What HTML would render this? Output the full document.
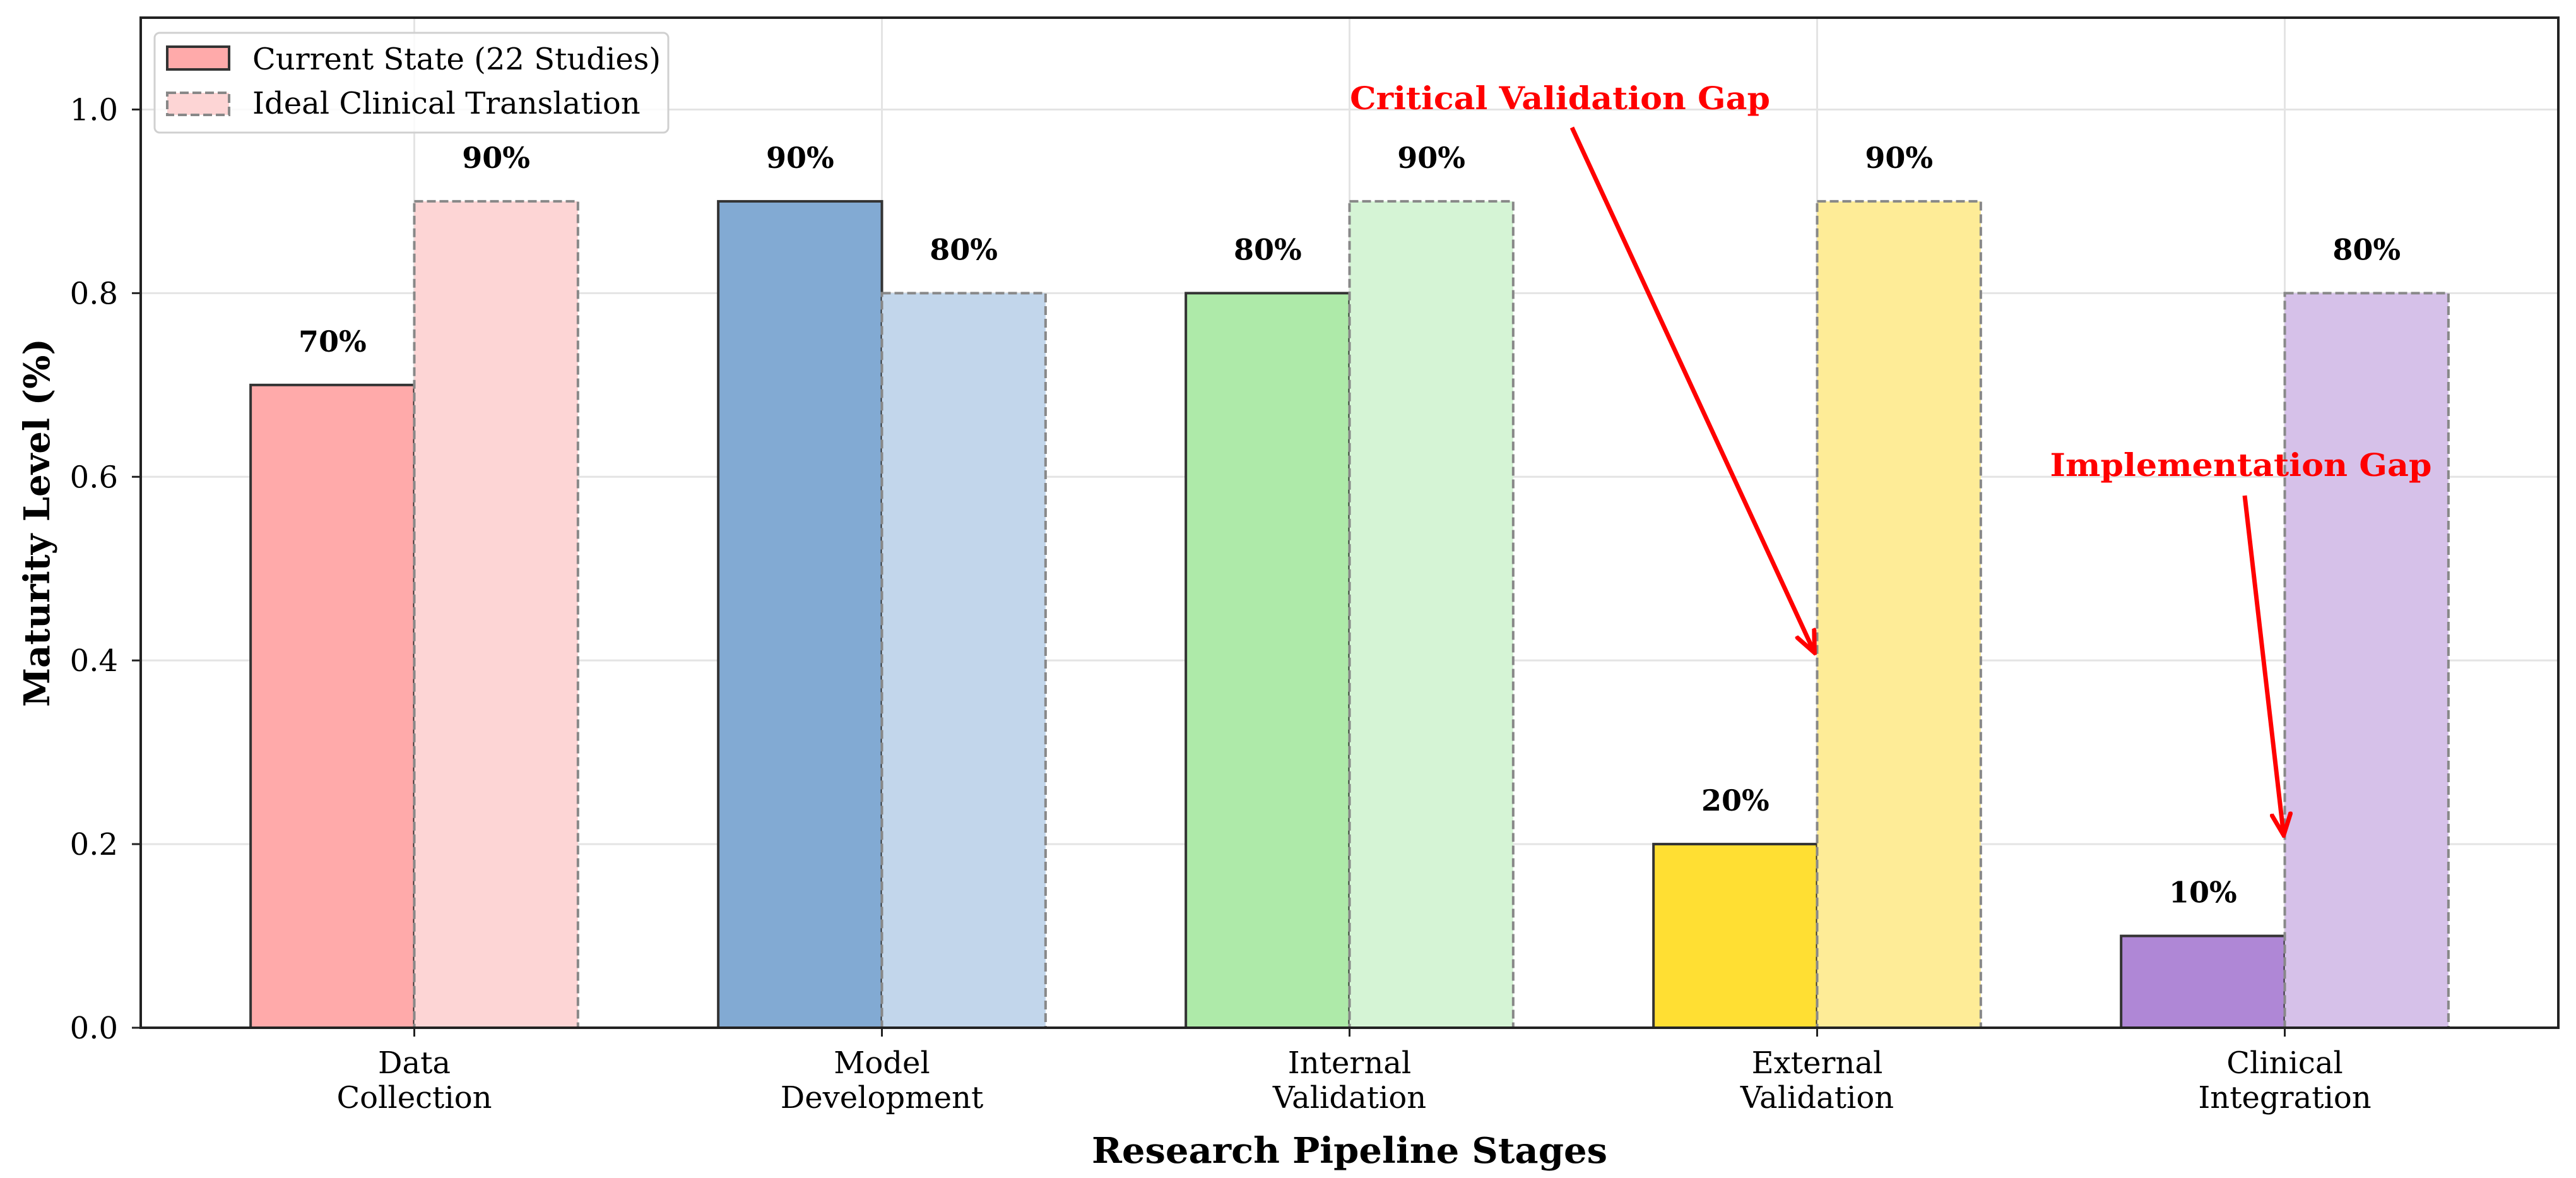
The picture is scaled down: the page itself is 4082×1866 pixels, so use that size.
<!DOCTYPE html>
<html><head><meta charset="utf-8"><style>
html,body{margin:0;padding:0;background:#fff;}
svg{display:block;font-family:"DejaVu Serif","Liberation Serif",serif;}
</style></head><body>
<svg id="chart" width="4082" height="1866" viewBox="0 0 4082 1866" xmlns="http://www.w3.org/2000/svg">
<defs>
<marker id="ah" markerUnits="userSpaceOnUse" markerWidth="40" markerHeight="36" refX="34" refY="18" orient="auto">
<path d="M0,2 L36,18 L0,34" fill="none" stroke="#ff0000" stroke-width="7"/>
</marker>
</defs>
<g id="grid"></g>
<g id="bars"></g>
<g id="labels"></g>
<g id="axes"></g>
<g id="annot"></g>
<g>
<rect x="245" y="52" width="814" height="158" rx="8" fill="#fff" fill-opacity="0.8" stroke="#d0d0d0" stroke-width="3"/>
<rect x="265" y="74" width="98" height="36" fill="#ffaaaa" stroke="#333" stroke-width="4"/>
<text x="400" y="110" font-size="48">Current State (22 Studies)</text>
<rect x="265" y="147" width="98" height="35" fill="#fdd5d5" stroke="#888" stroke-width="4" stroke-dasharray="14,6"/>
<text x="400" y="180" font-size="48">Ideal Clinical Translation</text>
</g>
</svg>
<script>
const categories = [["Data","Collection"],["Model","Development"],["Internal","Validation"],["External","Validation"],["Clinical","Integration"]];
const currentValues = [0.7, 0.9, 0.8, 0.2, 0.1];
const idealValues = [0.9, 0.8, 0.9, 0.9, 0.8];
const currentColors = ["#ffaaaa","#82aad3","#aeeaa9","#ffdf33","#af87d6"];
const idealColors = ["#fdd5d5","#c2d6eb","#d5f4d5","#feec97","#d6c1e9"];
const yTicks = [0.0, 0.2, 0.4, 0.6, 0.8, 1.0];
const yTickLabels = ["0.0","0.2","0.4","0.6","0.8","1.0"];

const NS = "http://www.w3.org/2000/svg";
const L = 223, R = 4054, T = 28, B = 1628;
const X0 = -0.585, X1 = 4.585, Y0 = 0, Y1 = 1.1;
const xs = v => L + (v - X0) / (X1 - X0) * (R - L);
const ys = v => B - (v - Y0) / (Y1 - Y0) * (B - T);
const W = 0.35;
function mk(tag, attrs, parent, text) {
  const e = document.createElementNS(NS, tag);
  for (const k in attrs) e.setAttribute(k, attrs[k]);
  if (text !== undefined) e.textContent = text;
  parent.appendChild(e);
  return e;
}
const grid = document.getElementById('grid');
const bars = document.getElementById('bars');
const labels = document.getElementById('labels');
const axes = document.getElementById('axes');
const annot = document.getElementById('annot');

yTicks.forEach((t, i) => {
  const g = mk('line', {x1: L, x2: R, y1: ys(t), y2: ys(t), stroke: '#e4e4e4', 'stroke-width': 3}, grid);
  
  
  const tk = mk('line', {x1: L - 14, x2: L, y1: ys(t), y2: ys(t), stroke: '#222', 'stroke-width': 3}, axes);
  
  
  const tl = mk('text', {x: L - 36, y: ys(t) + 17, 'font-size': 48, 'text-anchor': 'end'}, axes, yTickLabels[i]);
  
  
});
categories.forEach((c, i) => {
  const g = mk('line', {x1: xs(i), x2: xs(i), y1: T, y2: B, stroke: '#e4e4e4', 'stroke-width': 3}, grid);
  
  
});
categories.forEach((c, i) => {
  const x0 = xs(i - W), xm = xs(i), x1 = xs(i + W);
  const b1 = mk('rect', {x: x0, y: ys(currentValues[i]), width: xm - x0, height: ys(0) - ys(currentValues[i]), fill: currentColors[i], stroke: '#333', 'stroke-width': 4}, bars);
  
  
  const b2 = mk('rect', {x: xm, y: ys(idealValues[i]), width: x1 - xm, height: ys(0) - ys(idealValues[i]), fill: idealColors[i], stroke: '#888', 'stroke-width': 4, 'stroke-dasharray': '14,6'}, bars);
  
  
  const l1 = mk('text', {x: (x0 + xm) / 2, y: ys(currentValues[i]) - 53, 'font-size': 46, 'font-weight': 'bold', 'text-anchor': 'middle'}, labels, Math.round(currentValues[i] * 100) + '%');
  
  
  const l2 = mk('text', {x: (xm + x1) / 2, y: ys(idealValues[i]) - 53, 'font-size': 46, 'font-weight': 'bold', 'text-anchor': 'middle'}, labels, Math.round(idealValues[i] * 100) + '%');
  
  
  const tk = mk('line', {x1: xm, x2: xm, y1: B, y2: B + 14, stroke: '#222', 'stroke-width': 3}, axes);
  
  
  c.forEach((line, j) => {
    const t = mk('text', {x: xm, y: 1700 + j * 55, 'font-size': 48, 'text-anchor': 'middle'}, axes, line);
    
    
  });
});
const frame = mk('rect', {x: L, y: T, width: R - L, height: B - T, fill: 'none', stroke: '#222', 'stroke-width': 4}, axes);


const xt = mk('text', {x: (L + R) / 2, y: 1842, 'font-size': 56, 'font-weight': 'bold', 'text-anchor': 'middle', textLength: 817, lengthAdjust: 'spacingAndGlyphs'}, axes, 'Research Pipeline Stages');


const yt = mk('text', {x: 0, y: 0, 'font-size': 56, 'font-weight': 'bold', 'text-anchor': 'middle', transform: 'translate(78,' + ((T + B) / 2) + ') rotate(-90)'}, axes, 'Maturity Level (%)');



const a1 = mk('text', {x: 2472, y: 173, 'font-size': 50, 'font-weight': 'bold', fill: '#ff0000', 'text-anchor': 'middle', textLength: 666, lengthAdjust: 'spacingAndGlyphs'}, annot, 'Critical Validation Gap');


const ar1 = mk('line', {x1: 2491, y1: 202, x2: xs(3) - 5, y2: ys(0.4) - 14, stroke: '#ff0000', 'stroke-width': 7, 'marker-end': 'url(#ah)'}, annot);


const a2 = mk('text', {x: 3551, y: 754, 'font-size': 50, 'font-weight': 'bold', fill: '#ff0000', 'text-anchor': 'middle', textLength: 605, lengthAdjust: 'spacingAndGlyphs'}, annot, 'Implementation Gap');


const ar2 = mk('line', {x1: 3557, y1: 785, x2: xs(4) - 2, y2: ys(0.2) - 16, stroke: '#ff0000', 'stroke-width': 7, 'marker-end': 'url(#ah)'}, annot);


</script>
</body></html>
